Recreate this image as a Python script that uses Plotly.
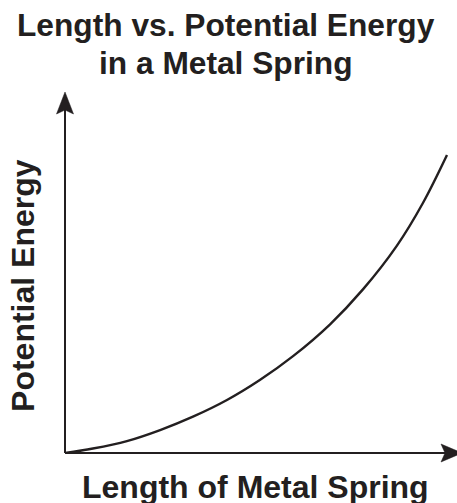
import plotly.graph_objects as go

# Data (arbitrary units)
length = [0, 0.73, 1.62, 2.49, 3.35, 4.24, 5.10, 5.97, 6.94, 7.80, 8.69, 9.37, 10]
energy = [0, 0.15, 0.40, 0.77, 1.22, 1.78, 2.45, 3.25, 4.32, 5.49, 6.96, 8.39, 10]

title_lines = ["Length vs. Potential Energy", "in a Metal Spring"]
x_label = "Length of Metal Spring"
y_label = "Potential Energy"

INK = "#231f20"
FONT = "Liberation Sans, Arial, sans-serif"

fig = go.Figure()
fig.add_trace(go.Scatter(
    x=length, y=energy, mode="lines",
    line=dict(color=INK, width=2.4, shape="spline", smoothing=1.0),
    hoverinfo="skip", showlegend=False,
))

W, H = 457, 503
ML, MR, MT, MB = 65, 0, 93, 50

fig.update_layout(
    width=W, height=H,
    margin=dict(l=ML, r=MR, t=MT, b=MB, pad=0),
    paper_bgcolor="white", plot_bgcolor="white",
    xaxis=dict(range=[0, 10.262], visible=False, fixedrange=True),
    yaxis=dict(range=[0, 12.081], visible=False, fixedrange=True),
    font=dict(family=FONT, color=INK),
)

def px_to_paper_y(py):
    return (H - MB - py) / (H - MT - MB)

def px_to_paper_x(px):
    return (px - ML) / (W - ML - MR)

TFS, LFS = 31.7, 32
anns = [
    dict(text="<b>%s</b>" % title_lines[0], x=px_to_paper_x(225.5), y=px_to_paper_y(35.5 - 0.33 * TFS), fs=TFS),
    dict(text="<b>%s</b>" % title_lines[1], x=px_to_paper_x(225.5), y=px_to_paper_y(73 - 0.33 * TFS), fs=TFS),
    dict(text="<b>%s</b>" % x_label, x=px_to_paper_x(255), y=px_to_paper_y(498 - 0.33 * LFS), fs=LFS),
]
for a in anns:
    fig.add_annotation(text=a["text"], x=a["x"], y=a["y"], xref="paper", yref="paper",
                       xanchor="center", yanchor="middle", showarrow=False,
                       font=dict(size=a["fs"], family=FONT, color=INK))
fig.add_annotation(text="<b>%s</b>" % y_label, x=px_to_paper_x(33.5 - 0.33 * LFS), y=px_to_paper_y(285),
                   xref="paper", yref="paper", xanchor="center", yanchor="middle",
                   textangle=-90, showarrow=False,
                   font=dict(size=LFS, family=FONT, color=INK))

# axis lines
fig.add_shape(type="line", xref="paper", yref="paper", x0=0, x1=0, y0=0, y1=0.97,
              line=dict(color=INK, width=2))
fig.add_shape(type="line", xref="paper", yref="paper", x0=0, x1=0.98, y0=0, y1=0,
              line=dict(color=INK, width=2))

# arrowheads (pixel-sized, anchored to axis ends)
fig.add_shape(type="path", xref="paper", yref="paper",
              xsizemode="pixel", ysizemode="pixel", xanchor=0, yanchor=1,
              path="M0,1 L8.5,-21 L0,-17 L-8.5,-21 Z",
              fillcolor=INK, line=dict(color=INK, width=0.5))
fig.add_shape(type="path", xref="paper", yref="paper",
              xsizemode="pixel", ysizemode="pixel", xanchor=1, yanchor=0,
              path="M5,0 L-16,9 L-12,0 L-16,-9 Z",
              fillcolor=INK, line=dict(color=INK, width=0.5))

fig.write_html("out.html", config={"displayModeBar": False},
               post_script="document.body.style.margin='0';document.body.style.overflow='hidden';")
